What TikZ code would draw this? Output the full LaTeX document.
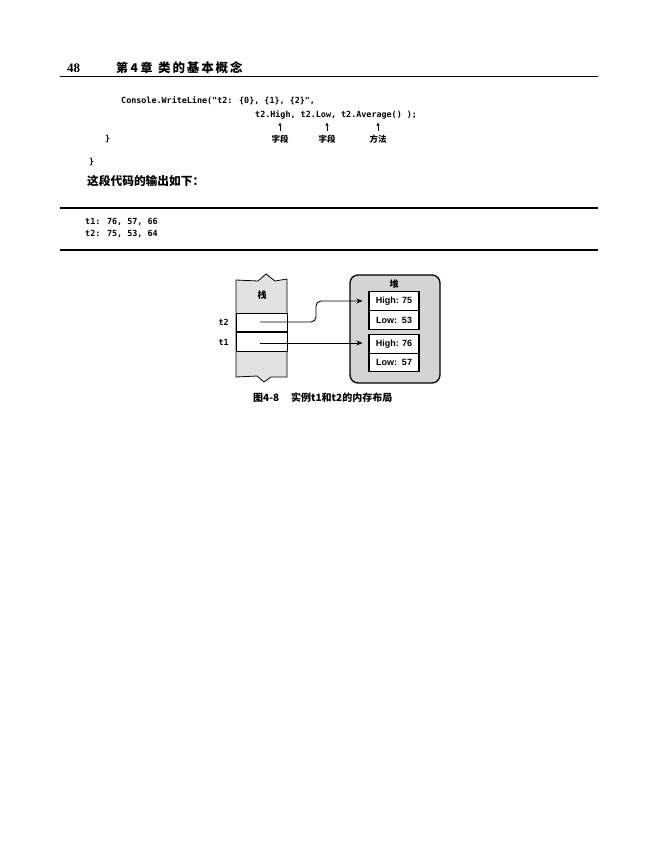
\documentclass[tikz,border=0pt]{standalone}
\usepackage{fontspec}
\setmainfont{Liberation Serif}
\newfontfamily\cjk{Noto Sans CJK SC}
\newfontfamily\cjkwide{Noto Sans CJK SC}[LetterSpace=15]
\newfontfamily\codefont{DejaVu Sans Mono}
\newfontfamily\boxfont{Liberation Sans}
\usetikzlibrary{arrows.meta,positioning}
\definecolor{stackgray}{RGB}{226,226,226}
\definecolor{heapgray}{RGB}{212,212,212}
\tikzset{
  code/.style={anchor=west,inner sep=0pt,font=\codefont\bfseries\fontsize{8.4}{10}\selectfont},
  note/.style={inner sep=0pt,font=\cjk\bfseries\fontsize{8.5}{10}\selectfont},
  cell/.style={draw,line width=0.8pt,fill=white,minimum width=51pt,minimum height=18.5pt,inner sep=0pt},
  field/.style={draw,line width=1.1pt,fill=white,minimum width=50pt,minimum height=18.5pt,inner sep=0pt,
    font=\boxfont\bfseries\fontsize{9}{10}\selectfont},
  ptr/.style={line width=0.9pt,-{Stealth[length=6pt,width=5pt]}},
  uparr/.style={line width=0.6pt,-{Triangle[length=3pt,width=3pt]}},
}
\begin{document}
\begin{tikzpicture}[x=1pt,y=1pt,yscale=-1]
\useasboundingbox[fill=white] (0,0) rectangle (655,866);

%header
\node[anchor=west,inner sep=0pt,font=\bfseries\fontsize{13}{14}\selectfont] (pageno) at (67,68) {48};
\node[anchor=west,inner sep=0pt,font=\cjk\bfseries\fontsize{12}{14}\selectfont] (chap) at (116,68) {第\hspace{2.5pt}4\hspace{2.5pt}章};
\node[anchor=west,inner sep=0pt,font=\cjkwide\bfseries\fontsize{12.5}{14}\selectfont] (title) at (158,68) {类的基本概念};
\draw[line width=1.1pt] (60,76.5) -- (598,76.5);

%code
\node[code] (line1) at (121,101) {Console.WriteLine("t2: \{0\}, \{1\}, \{2\}",};
\node[code] (line2) at (255,115) {t2.High, t2.Low, t2.Average() );};
\node[code] (brace1) at (105,139) {\}};
\node[note] (f1) at (280,139) {字段};
\node[note] (f2) at (327,139) {字段};
\node[note] (f3) at (378,139) {方法};
\foreach \n in {f1,f2,f3}
  \draw[uparr] (\n.north) ++(0,-4) -- ++(0,-8);
\node[code] (brace2) at (89,162) {\}};
\node[anchor=west,inner sep=0pt,font=\cjk\bfseries\fontsize{11.7}{13}\selectfont] (say) at (87,181) {这段代码的输出如下：};

%output
\draw[line width=2.6pt] (60,208) -- (598,208);
\node[code] (out1) at (85,222) {t1: 76, 57, 66};
\node[code] (out2) at (85,234) {t2: 75, 53, 64};
\draw[line width=2.6pt] (60,250) -- (598,250);

%stack
\draw[line width=0.8pt,fill=stackgray] (236,280) -- (258,281) -- (266,274) -- (275,281) -- (287,279)
  -- (287,377) -- (271,377) -- (264,382) -- (257,376) -- (236,377) -- cycle;
\node[note,font=\cjk\bfseries\fontsize{9}{10}\selectfont] (stack) at (262,295) {栈};
\node[cell] (t2cell) at (261.5,322.5) {};
\node[cell] (t1cell) at (261.5,342) {};
\node[code,anchor=east] (t2lab) at (229,322) {t2};
\node[code,anchor=east] (t1lab) at (229,342) {t1};
\coordinate (t2p) at (260,322);
\coordinate (t1p) at (260,343);

%heap
\node[draw,line width=1.3pt,rounded corners=8pt,fill=heapgray,minimum width=90pt,minimum height=108pt] (heap) at (395,329) {};
\node[note,font=\cjk\bfseries\fontsize{9}{10}\selectfont] (heaplab) at (394,284) {堆};
\node[field] (high1) at (394,301) {High: 75};
\node[field] (low1) at (394,320) {Low:\ \ 53};
\node[field] (high2) at (394,344) {High: 76};
\node[field] (low2) at (394,362.5) {Low:\ \ 57};

%pointers
\draw[ptr,rounded corners=5pt,shorten >=6pt] (t2p) -- (316,322) |- (high1.west);
\draw[ptr,shorten >=6pt] (t1p) -- (t1p -| high2.west);

%caption
\node[anchor=west,inner sep=0pt,font=\cjk\bfseries\fontsize{10}{12}\selectfont] (fig) at (253,398) {图4-8};
\node[anchor=west,inner sep=0pt,font=\cjk\bfseries\fontsize{10}{12}\selectfont] (cap) at (291,398) {实例t1和t2的内存布局};
\end{tikzpicture}
\end{document}
